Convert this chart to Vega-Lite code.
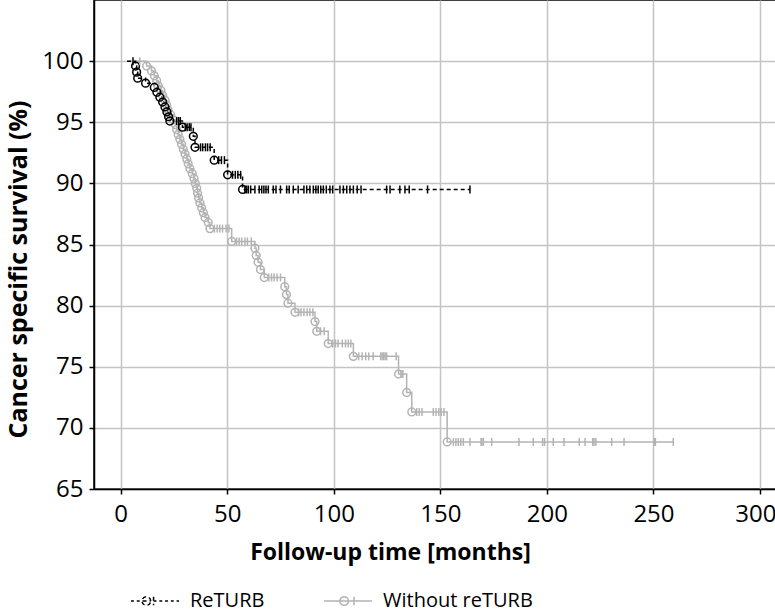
{
"$schema": "https://vega.github.io/schema/vega-lite/v6.json",
"width": 682, "height": 489,
"autosize": {"type": "none"},
"padding": {"left": 94, "top": 0, "right": 0, "bottom": 126},
"background": "white",
"config": {"font": "Open Sans", "view": {"stroke": "black", "strokeWidth": 1.5}},
"data": {"values": [
{"g":"Without reTURB","t":3,"s":100,"k":"s"},
{"g":"Without reTURB","t":9.0,"s":100,"k":"c"},
{"g":"Without reTURB","t":12.2,"s":99.6,"k":"e"},
{"g":"Without reTURB","t":14.5,"s":99.2,"k":"e"},
{"g":"Without reTURB","t":15.8,"s":98.8,"k":"e"},
{"g":"Without reTURB","t":16.9,"s":98.4,"k":"e"},
{"g":"Without reTURB","t":17.6,"s":98.0,"k":"e"},
{"g":"Without reTURB","t":18.9,"s":97.6,"k":"e"},
{"g":"Without reTURB","t":19.7,"s":97.2,"k":"e"},
{"g":"Without reTURB","t":20.8,"s":96.8,"k":"e"},
{"g":"Without reTURB","t":21.6,"s":96.4,"k":"e"},
{"g":"Without reTURB","t":22.3,"s":96.0,"k":"e"},
{"g":"Without reTURB","t":23.5,"s":95.6,"k":"e"},
{"g":"Without reTURB","t":24.7,"s":95.2,"k":"e"},
{"g":"Without reTURB","t":25.8,"s":94.8,"k":"e"},
{"g":"Without reTURB","t":26.3,"s":94.4,"k":"e"},
{"g":"Without reTURB","t":27.0,"s":94.0,"k":"e"},
{"g":"Without reTURB","t":27.8,"s":93.6,"k":"e"},
{"g":"Without reTURB","t":28.6,"s":93.2,"k":"e"},
{"g":"Without reTURB","t":29.4,"s":92.8,"k":"e"},
{"g":"Without reTURB","t":30.2,"s":92.4,"k":"e"},
{"g":"Without reTURB","t":31.0,"s":92.0,"k":"e"},
{"g":"Without reTURB","t":31.7,"s":91.6,"k":"e"},
{"g":"Without reTURB","t":32.5,"s":91.2,"k":"e"},
{"g":"Without reTURB","t":33.6,"s":90.8,"k":"e"},
{"g":"Without reTURB","t":34.4,"s":90.4,"k":"e"},
{"g":"Without reTURB","t":35.0,"s":90.0,"k":"e"},
{"g":"Without reTURB","t":35.7,"s":89.6,"k":"e"},
{"g":"Without reTURB","t":36.1,"s":89.2,"k":"e"},
{"g":"Without reTURB","t":36.6,"s":88.8,"k":"e"},
{"g":"Without reTURB","t":37.2,"s":88.4,"k":"e"},
{"g":"Without reTURB","t":38.0,"s":88.0,"k":"e"},
{"g":"Without reTURB","t":38.8,"s":87.6,"k":"e"},
{"g":"Without reTURB","t":39.6,"s":87.2,"k":"e"},
{"g":"Without reTURB","t":41.1,"s":86.8,"k":"e"},
{"g":"Without reTURB","t":41.9,"s":86.3,"k":"e"},
{"g":"Without reTURB","t":44.0,"s":86.3,"k":"c"},
{"g":"Without reTURB","t":45.3,"s":86.3,"k":"c"},
{"g":"Without reTURB","t":46.5,"s":86.3,"k":"c"},
{"g":"Without reTURB","t":47.8,"s":86.3,"k":"c"},
{"g":"Without reTURB","t":49.5,"s":86.3,"k":"c"},
{"g":"Without reTURB","t":50.8,"s":86.3,"k":"c"},
{"g":"Without reTURB","t":52.1,"s":85.25,"k":"e"},
{"g":"Without reTURB","t":54.4,"s":85.25,"k":"c"},
{"g":"Without reTURB","t":55.6,"s":85.25,"k":"c"},
{"g":"Without reTURB","t":56.8,"s":85.25,"k":"c"},
{"g":"Without reTURB","t":58.3,"s":85.25,"k":"c"},
{"g":"Without reTURB","t":59.5,"s":85.25,"k":"c"},
{"g":"Without reTURB","t":61.3,"s":85.25,"k":"c"},
{"g":"Without reTURB","t":63.0,"s":84.7,"k":"e"},
{"g":"Without reTURB","t":63.6,"s":84.1,"k":"e"},
{"g":"Without reTURB","t":64.5,"s":83.55,"k":"e"},
{"g":"Without reTURB","t":65.6,"s":82.95,"k":"e"},
{"g":"Without reTURB","t":67.4,"s":82.3,"k":"e"},
{"g":"Without reTURB","t":69.5,"s":82.3,"k":"c"},
{"g":"Without reTURB","t":70.8,"s":82.3,"k":"c"},
{"g":"Without reTURB","t":72.0,"s":82.3,"k":"c"},
{"g":"Without reTURB","t":73.4,"s":82.3,"k":"c"},
{"g":"Without reTURB","t":75.0,"s":82.3,"k":"c"},
{"g":"Without reTURB","t":77.0,"s":81.55,"k":"e"},
{"g":"Without reTURB","t":77.8,"s":80.9,"k":"e"},
{"g":"Without reTURB","t":78.5,"s":80.2,"k":"e"},
{"g":"Without reTURB","t":81.8,"s":79.45,"k":"e"},
{"g":"Without reTURB","t":83.5,"s":79.45,"k":"c"},
{"g":"Without reTURB","t":84.6,"s":79.45,"k":"c"},
{"g":"Without reTURB","t":86.0,"s":79.45,"k":"c"},
{"g":"Without reTURB","t":87.5,"s":79.45,"k":"c"},
{"g":"Without reTURB","t":88.8,"s":79.45,"k":"c"},
{"g":"Without reTURB","t":90.2,"s":79.45,"k":"c"},
{"g":"Without reTURB","t":91.2,"s":78.7,"k":"e"},
{"g":"Without reTURB","t":92.0,"s":77.9,"k":"e"},
{"g":"Without reTURB","t":93.8,"s":77.9,"k":"c"},
{"g":"Without reTURB","t":95.5,"s":77.9,"k":"c"},
{"g":"Without reTURB","t":97.4,"s":76.9,"k":"e"},
{"g":"Without reTURB","t":99.5,"s":76.9,"k":"c"},
{"g":"Without reTURB","t":100.8,"s":76.9,"k":"c"},
{"g":"Without reTURB","t":102.0,"s":76.9,"k":"c"},
{"g":"Without reTURB","t":104.0,"s":76.9,"k":"c"},
{"g":"Without reTURB","t":105.5,"s":76.9,"k":"c"},
{"g":"Without reTURB","t":106.8,"s":76.9,"k":"c"},
{"g":"Without reTURB","t":108.0,"s":76.9,"k":"c"},
{"g":"Without reTURB","t":109.2,"s":75.85,"k":"e"},
{"g":"Without reTURB","t":111.7,"s":75.85,"k":"c"},
{"g":"Without reTURB","t":113.3,"s":75.85,"k":"c"},
{"g":"Without reTURB","t":115.0,"s":75.85,"k":"c"},
{"g":"Without reTURB","t":116.4,"s":75.85,"k":"c"},
{"g":"Without reTURB","t":118.5,"s":75.85,"k":"c"},
{"g":"Without reTURB","t":122.0,"s":75.85,"k":"c"},
{"g":"Without reTURB","t":122.7,"s":75.85,"k":"c"},
{"g":"Without reTURB","t":123.4,"s":75.85,"k":"c"},
{"g":"Without reTURB","t":124.1,"s":75.85,"k":"c"},
{"g":"Without reTURB","t":124.8,"s":75.85,"k":"c"},
{"g":"Without reTURB","t":129.3,"s":75.85,"k":"c"},
{"g":"Without reTURB","t":130.4,"s":74.4,"k":"e"},
{"g":"Without reTURB","t":131.5,"s":74.4,"k":"c"},
{"g":"Without reTURB","t":132.4,"s":74.4,"k":"c"},
{"g":"Without reTURB","t":134.2,"s":72.9,"k":"e"},
{"g":"Without reTURB","t":136.6,"s":71.3,"k":"e"},
{"g":"Without reTURB","t":138.9,"s":71.3,"k":"c"},
{"g":"Without reTURB","t":140.1,"s":71.3,"k":"c"},
{"g":"Without reTURB","t":141.4,"s":71.3,"k":"c"},
{"g":"Without reTURB","t":146.7,"s":71.3,"k":"c"},
{"g":"Without reTURB","t":148.0,"s":71.3,"k":"c"},
{"g":"Without reTURB","t":149.3,"s":71.3,"k":"c"},
{"g":"Without reTURB","t":150.4,"s":71.3,"k":"c"},
{"g":"Without reTURB","t":151.7,"s":71.3,"k":"c"},
{"g":"Without reTURB","t":153.2,"s":68.85,"k":"e"},
{"g":"Without reTURB","t":156.1,"s":68.85,"k":"c"},
{"g":"Without reTURB","t":157.3,"s":68.85,"k":"c"},
{"g":"Without reTURB","t":158.4,"s":68.85,"k":"c"},
{"g":"Without reTURB","t":159.6,"s":68.85,"k":"c"},
{"g":"Without reTURB","t":160.8,"s":68.85,"k":"c"},
{"g":"Without reTURB","t":163.9,"s":68.85,"k":"c"},
{"g":"Without reTURB","t":169.1,"s":68.85,"k":"c"},
{"g":"Without reTURB","t":169.5,"s":68.85,"k":"c"},
{"g":"Without reTURB","t":170.2,"s":68.85,"k":"c"},
{"g":"Without reTURB","t":174.1,"s":68.85,"k":"c"},
{"g":"Without reTURB","t":186.9,"s":68.85,"k":"c"},
{"g":"Without reTURB","t":193.6,"s":68.85,"k":"c"},
{"g":"Without reTURB","t":198.0,"s":68.85,"k":"c"},
{"g":"Without reTURB","t":198.9,"s":68.85,"k":"c"},
{"g":"Without reTURB","t":203.0,"s":68.85,"k":"c"},
{"g":"Without reTURB","t":208.0,"s":68.85,"k":"c"},
{"g":"Without reTURB","t":215.2,"s":68.85,"k":"c"},
{"g":"Without reTURB","t":217.9,"s":68.85,"k":"c"},
{"g":"Without reTURB","t":221.5,"s":68.85,"k":"c"},
{"g":"Without reTURB","t":222.1,"s":68.85,"k":"c"},
{"g":"Without reTURB","t":223.0,"s":68.85,"k":"c"},
{"g":"Without reTURB","t":230.4,"s":68.85,"k":"c"},
{"g":"Without reTURB","t":236.2,"s":68.85,"k":"c"},
{"g":"Without reTURB","t":250.4,"s":68.85,"k":"c"},
{"g":"Without reTURB","t":250.9,"s":68.85,"k":"c"},
{"g":"Without reTURB","t":259.3,"s":68.85,"k":"c"},
{"g":"ReTURB","t":3,"s":100,"k":"s"},
{"g":"ReTURB","t":5.8,"s":100,"k":"c"},
{"g":"ReTURB","t":7.0,"s":99.6,"k":"e"},
{"g":"ReTURB","t":7.5,"s":99.1,"k":"e"},
{"g":"ReTURB","t":8.0,"s":98.6,"k":"e"},
{"g":"ReTURB","t":11.7,"s":98.2,"k":"e"},
{"g":"ReTURB","t":15.8,"s":97.85,"k":"e"},
{"g":"ReTURB","t":17.0,"s":97.45,"k":"e"},
{"g":"ReTURB","t":18.4,"s":97.05,"k":"e"},
{"g":"ReTURB","t":19.7,"s":96.65,"k":"e"},
{"g":"ReTURB","t":20.8,"s":96.25,"k":"e"},
{"g":"ReTURB","t":21.7,"s":95.85,"k":"e"},
{"g":"ReTURB","t":22.5,"s":95.45,"k":"e"},
{"g":"ReTURB","t":23.1,"s":95.1,"k":"e"},
{"g":"ReTURB","t":26.3,"s":95.1,"k":"c"},
{"g":"ReTURB","t":27.2,"s":95.1,"k":"c"},
{"g":"ReTURB","t":28.0,"s":95.1,"k":"c"},
{"g":"ReTURB","t":29.0,"s":94.6,"k":"e"},
{"g":"ReTURB","t":30.3,"s":94.6,"k":"c"},
{"g":"ReTURB","t":31.2,"s":94.6,"k":"c"},
{"g":"ReTURB","t":32.2,"s":94.6,"k":"c"},
{"g":"ReTURB","t":33.0,"s":94.6,"k":"c"},
{"g":"ReTURB","t":34.1,"s":93.85,"k":"e"},
{"g":"ReTURB","t":34.9,"s":92.95,"k":"e"},
{"g":"ReTURB","t":37.5,"s":92.95,"k":"c"},
{"g":"ReTURB","t":38.5,"s":92.95,"k":"c"},
{"g":"ReTURB","t":39.8,"s":92.95,"k":"c"},
{"g":"ReTURB","t":40.8,"s":92.95,"k":"c"},
{"g":"ReTURB","t":42.0,"s":92.95,"k":"c"},
{"g":"ReTURB","t":43.9,"s":91.9,"k":"e"},
{"g":"ReTURB","t":46.0,"s":91.9,"k":"c"},
{"g":"ReTURB","t":47.3,"s":91.9,"k":"c"},
{"g":"ReTURB","t":48.7,"s":91.9,"k":"c"},
{"g":"ReTURB","t":50.2,"s":90.7,"k":"e"},
{"g":"ReTURB","t":52.5,"s":90.7,"k":"c"},
{"g":"ReTURB","t":53.8,"s":90.7,"k":"c"},
{"g":"ReTURB","t":55.0,"s":90.7,"k":"c"},
{"g":"ReTURB","t":56.3,"s":90.7,"k":"c"},
{"g":"ReTURB","t":57.2,"s":89.5,"k":"e"},
{"g":"ReTURB","t":58.3,"s":89.5,"k":"c"},
{"g":"ReTURB","t":59.1,"s":89.5,"k":"c"},
{"g":"ReTURB","t":59.9,"s":89.5,"k":"c"},
{"g":"ReTURB","t":61.0,"s":89.5,"k":"c"},
{"g":"ReTURB","t":63.0,"s":89.5,"k":"c"},
{"g":"ReTURB","t":65.0,"s":89.5,"k":"c"},
{"g":"ReTURB","t":66.2,"s":89.5,"k":"c"},
{"g":"ReTURB","t":67.2,"s":89.5,"k":"c"},
{"g":"ReTURB","t":68.2,"s":89.5,"k":"c"},
{"g":"ReTURB","t":69.3,"s":89.5,"k":"c"},
{"g":"ReTURB","t":71.6,"s":89.5,"k":"c"},
{"g":"ReTURB","t":72.9,"s":89.5,"k":"c"},
{"g":"ReTURB","t":75.0,"s":89.5,"k":"c"},
{"g":"ReTURB","t":77.9,"s":89.5,"k":"c"},
{"g":"ReTURB","t":79.1,"s":89.5,"k":"c"},
{"g":"ReTURB","t":81.0,"s":89.5,"k":"c"},
{"g":"ReTURB","t":83.3,"s":89.5,"k":"c"},
{"g":"ReTURB","t":86.0,"s":89.5,"k":"c"},
{"g":"ReTURB","t":87.3,"s":89.5,"k":"c"},
{"g":"ReTURB","t":88.8,"s":89.5,"k":"c"},
{"g":"ReTURB","t":90.4,"s":89.5,"k":"c"},
{"g":"ReTURB","t":91.6,"s":89.5,"k":"c"},
{"g":"ReTURB","t":92.7,"s":89.5,"k":"c"},
{"g":"ReTURB","t":93.9,"s":89.5,"k":"c"},
{"g":"ReTURB","t":95.1,"s":89.5,"k":"c"},
{"g":"ReTURB","t":96.5,"s":89.5,"k":"c"},
{"g":"ReTURB","t":98.2,"s":89.5,"k":"c"},
{"g":"ReTURB","t":99.5,"s":89.5,"k":"c"},
{"g":"ReTURB","t":102.9,"s":89.5,"k":"c"},
{"g":"ReTURB","t":104.5,"s":89.5,"k":"c"},
{"g":"ReTURB","t":106.1,"s":89.5,"k":"c"},
{"g":"ReTURB","t":107.6,"s":89.5,"k":"c"},
{"g":"ReTURB","t":109.2,"s":89.5,"k":"c"},
{"g":"ReTURB","t":111.0,"s":89.5,"k":"c"},
{"g":"ReTURB","t":112.8,"s":89.5,"k":"c"},
{"g":"ReTURB","t":124.8,"s":89.5,"k":"c"},
{"g":"ReTURB","t":126.4,"s":89.5,"k":"c"},
{"g":"ReTURB","t":131.0,"s":89.5,"k":"c"},
{"g":"ReTURB","t":133.4,"s":89.5,"k":"c"},
{"g":"ReTURB","t":135.4,"s":89.5,"k":"c"},
{"g":"ReTURB","t":144.0,"s":89.5,"k":"c"},
{"g":"ReTURB","t":163.9,"s":89.5,"k":"c"}
]},
"encoding": {
  "x": {"field": "t", "type": "quantitative",
        "scale": {"domain": [-12.5, 307.5], "nice": false, "zero": false},
        "axis": {"values": [0, 50, 100, 150, 200, 250, 300], "title": "Follow-up time [months]",
                 "titleFontSize": 23, "titleFontWeight": "bold", "titleColor": "black", "titlePadding": 15,
                 "titleX": 296, "titleAlign": "center",
                 "labelFontSize": 24, "labelColor": "black", "labelPadding": 8, "labelFont": "Open Sans", "titleFont": "Open Sans",
                 "labelAlign": {"condition": {"test": "datum.value === 300", "value": "right"}, "value": "center"},
                 "labelOffset": {"condition": {"test": "datum.value === 300", "value": 16}, "value": 0},
                 "grid": true, "gridColor": "#c4c4c4", "gridWidth": 1.5,
                 "domainColor": "black", "domainWidth": 1.5, "tickColor": "black", "tickWidth": 1.5, "tickSize": 5}},
  "y": {"field": "s", "type": "quantitative",
        "scale": {"domain": [65, 105], "nice": false, "zero": false},
        "axis": {"values": [65, 70, 75, 80, 85, 90, 95, 100], "title": "Cancer specific survival (%)",
                 "titleFontSize": 25, "titleFontWeight": "bold", "titleColor": "black", "titlePadding": 10,
                 "titleY": 269, "titleAlign": "center",
                 "labelFontSize": 24, "labelColor": "black", "labelPadding": 6, "labelFont": "Open Sans", "titleFont": "Open Sans",
                 "grid": true, "gridColor": "#c4c4c4", "gridWidth": 1.5,
                 "domainColor": "black", "domainWidth": 1.5, "tickColor": "black", "tickWidth": 1.5, "tickSize": 5}},
  "color": {"field": "g", "type": "nominal",
            "scale": {"domain": ["ReTURB", "Without reTURB"], "range": ["#000000", "#b3b3b3"]},
            "legend": {"title": null, "orient": "none", "legendX": 36, "legendY": 576, "direction": "horizontal",
                       "columns": 2, "columnPadding": 56, "labelFontSize": 20, "labelFont": "Open Sans", "labelColor": "black",
                       "labelLimit": 400,
                       "symbolSize": 2304, "symbolStrokeWidth": 1.5, "labelOffset": 10,
                       "encode": {"symbols": {"update": {
                          "shape": {"signal": "datum.value === 'ReTURB' ? 'M-1,0H-0.88M-0.76,0H-0.64M-0.52,0H-0.18M-0.18,0A0.18,0.18 0 1 0 -0.54,0A0.18,0.18 0 1 0 -0.18,0M-0.06,-0.18V0.18M-0.06,0H0.06M0.18,0H0.3M0.42,0H0.54M0.66,0H0.78M0.9,0H1' : 'M-1,0H1M0.02,0A0.18,0.18 0 1 0 -0.34,0A0.18,0.18 0 1 0 0.02,0M0.25,-0.18V0.18'"},
                          "fill": {"value": "transparent"},
                          "strokeDash": {"value": []},
                          "opacity": {"value": 1}}}}}}
},
"layer": [
  {"mark": {"type": "line", "interpolate": "step-after", "strokeWidth": 1.5},
   "encoding": {"strokeDash": {"field": "g", "type": "nominal",
                 "scale": {"domain": ["ReTURB", "Without reTURB"], "range": [[4, 3], [1, 0]]}, "legend": null}}},
  {"transform": [{"filter": "datum.k === 'e'"}],
   "mark": {"type": "point", "shape": "circle", "filled": false, "size": 60, "strokeWidth": 1.5, "opacity": 1}},
  {"transform": [{"filter": "datum.k === 'c'"}],
   "mark": {"type": "point", "shape": "M0,-1V1", "filled": false, "size": 64, "strokeWidth": 1.5, "opacity": 1}}
]
}
